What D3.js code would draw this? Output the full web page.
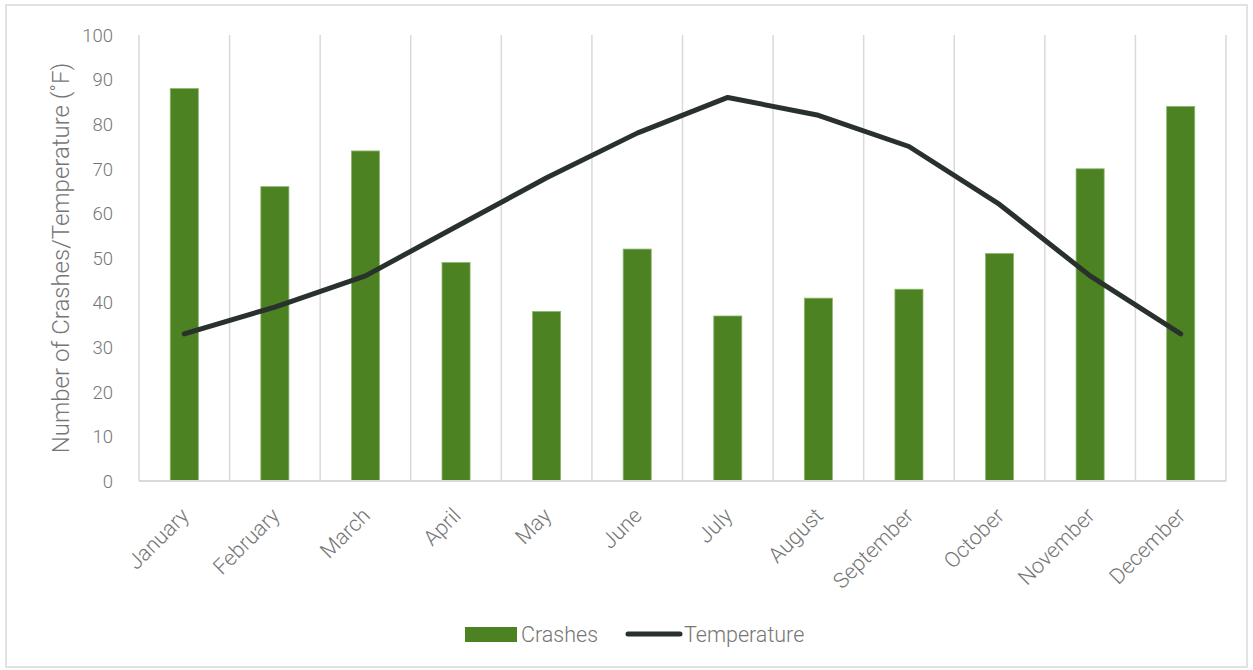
<!DOCTYPE html>
<html><head><meta charset="utf-8">
<script src="https://cdn.jsdelivr.net/npm/d3@7"></script>
<style>
html,body{margin:0;padding:0;background:#fff;}
svg{display:block;font-family:Roboto,"Noto Sans",sans-serif;font-weight:300;}
</style></head>
<body>
<svg id="chart" width="1253" height="670"></svg>
<script>
const months = ["January","February","March","April","May","June","July","August","September","October","November","December"];
const crashes = [88,66,74,49,38,52,37,41,43,51,70,84];
const temperature = [33,39,46,57,68,78,86,82,75,62,46,33];
const yTicks = [0,10,20,30,40,50,60,70,80,90,100];
const seriesNames = ["Crashes","Temperature"];

const svg = d3.select("#chart");
const W = 1253, H = 670;
const m = {left:139, right:1226, top:35, bottom:481};
const txt = "#767676";

svg.append("rect").attr("x",6).attr("y",5).attr("width",W-12).attr("height",H-8)
  .attr("fill","#fff").attr("stroke","#d9d9d9").attr("stroke-width",1.5);

const x = d3.scaleBand().domain(months).range([m.left,m.right]).paddingInner(0).paddingOuter(0);
const y = d3.scaleLinear().domain([0,100]).range([m.bottom,m.top]);

// vertical gridlines at category boundaries
const bounds = months.map(d=>x(d)).concat([m.right]);
svg.append("g").selectAll("line").data(bounds).join("line")
  .attr("x1",d=>d).attr("x2",d=>d).attr("y1",y(100)).attr("y2",y(0))
  .attr("stroke","#d9d9d9").attr("stroke-width",1.5);

// y axis labels
const yAxis = d3.axisLeft(y).tickValues(yTicks).tickSize(0).tickPadding(0);
const gy = svg.append("g").attr("transform",`translate(${m.left-26},0)`).call(yAxis);
gy.select(".domain").remove();
gy.selectAll("text").attr("font-size",18.5).attr("fill",txt).attr("font-family","Roboto").attr("font-weight",300).attr("dy","0.34em");

// bars
const bw = x.bandwidth()*0.31;
svg.append("g").selectAll("rect").data(months).join("rect")
  .attr("x",(d)=>x(d)+x.bandwidth()/2-bw/2)
  .attr("width",bw)
  .attr("y",(d,i)=>y(crashes[i]))
  .attr("height",(d,i)=>y(0)-y(crashes[i]))
  .attr("fill","#4d8222").attr("stroke","#8cb870").attr("stroke-width",0.8);

// x axis baseline
svg.append("line").attr("x1",m.left).attr("x2",m.right).attr("y1",y(0)).attr("y2",y(0))
  .attr("stroke","#d9d9d9").attr("stroke-width",2);

// x labels
const xAxis = d3.axisBottom(x).tickSize(0).tickPadding(0);
const gx = svg.append("g").attr("transform",`translate(0,${m.bottom})`).call(xAxis);
gx.select(".domain").remove();
gx.selectAll("text")
  .attr("font-size",21.5).attr("fill",txt).attr("font-family","Roboto").attr("font-weight",300)
  .attr("text-anchor","end").attr("dy",0).attr("y",0)
  .attr("transform","translate(6,36) rotate(-45)");

// line
const line = d3.line().x((d,i)=>x(months[i])+x.bandwidth()/2).y(d=>y(d));
svg.append("path").datum(temperature).attr("d",line)
  .attr("fill","none").attr("stroke","#28312b").attr("stroke-width",5)
  .attr("stroke-linecap","round").attr("stroke-linejoin","round");

// y title
svg.append("text").attr("transform",`translate(69,${(m.top+m.bottom)/2}) rotate(-90)`)
  .attr("text-anchor","middle").attr("font-size",24).attr("fill",txt)
  .attr("font-family","Roboto").attr("font-weight",300)
  .text("Number of Crashes/Temperature (˚F)");

// legend
const lg = svg.append("g");
lg.append("rect").attr("x",465).attr("y",627).attr("width",52).attr("height",15).attr("fill","#4d8222");
lg.append("text").attr("x",521).attr("y",642).attr("font-size",21.5).attr("fill",txt)
  .attr("font-family","Roboto").attr("font-weight",300).text(seriesNames[0]);
lg.append("line").attr("x1",628).attr("x2",680).attr("y1",634).attr("y2",634)
  .attr("stroke","#28312b").attr("stroke-width",5).attr("stroke-linecap","round");
lg.append("text").attr("x",684).attr("y",642).attr("font-size",21.5).attr("fill",txt)
  .attr("font-family","Roboto").attr("font-weight",300).text(seriesNames[1]);
</script>
</body></html>
